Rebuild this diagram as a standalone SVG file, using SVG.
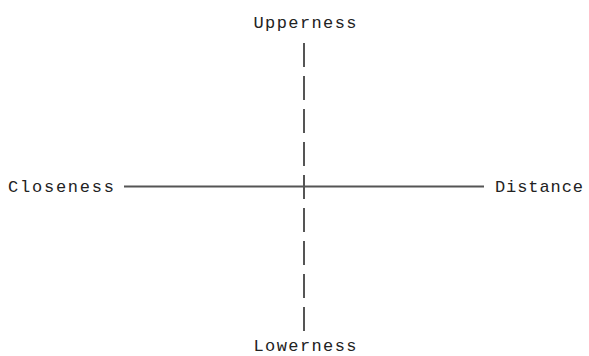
<svg xmlns="http://www.w3.org/2000/svg" width="589" height="356" viewBox="0 0 589 356">
<style>
.lbl{font-family:"Liberation Mono","Courier New",monospace;font-size:17px;fill:#222}
.ax{stroke:#555;stroke-width:2;fill:none}
</style>
<rect width="589" height="356" fill="#fff"/>
<g id="connectors">
<line class="ax" x1="124" y1="186.5" x2="484" y2="186.5"/>
<line class="ax" x1="304" y1="43" x2="304" y2="331" stroke-dasharray="24 9"/>
</g>
<g id="upperness"><text class="lbl" x="305" y="28" text-anchor="middle" textLength="103">Upperness</text></g>
<g id="closeness"><text class="lbl" x="8" y="192" textLength="106">Closeness</text></g>
<g id="distance"><text class="lbl" x="495" y="192" textLength="88">Distance</text></g>
<g id="lowerness"><text class="lbl" x="305" y="351" text-anchor="middle" textLength="103">Lowerness</text></g>
</svg>
